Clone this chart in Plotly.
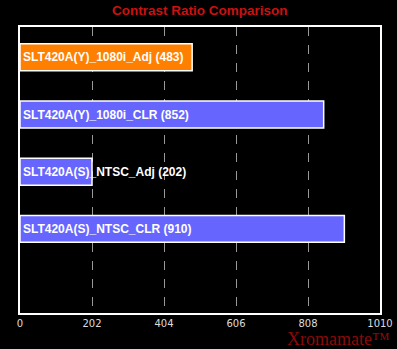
import plotly.graph_objects as go

labels = ["SLT420A(Y)_1080i_Adj", "SLT420A(Y)_1080i_CLR", "SLT420A(S)_NTSC_Adj", "SLT420A(S)_NTSC_CLR"]
values = [483, 852, 202, 910]
colors = ["#FF8000", "#6666FF", "#6666FF", "#6666FF"]
tick_vals = [0, 202, 404, 606, 808, 1010]
positions = list(range(len(labels)))

fig = go.Figure()
fig.add_trace(go.Bar(
    x=values, y=positions, orientation="h",
    marker=dict(color=colors, line=dict(color="white", width=1.5)),
    width=0.47, hoverinfo="skip",
))

for p, lab, v in zip(positions, labels, values):
    fig.add_annotation(x=0, y=p, xref="x", yref="y", text=f"{lab} ({v})",
                       showarrow=False, xanchor="left", xshift=1,
                       font=dict(family="Liberation Sans", size=12, color="white", weight="bold"))

fig.add_annotation(x=0.5, y=1.0, xref="paper", yref="paper", yshift=17, text="Contrast Ratio Comparison",
                   showarrow=False, xanchor="center", yanchor="middle",
                   font=dict(family="Liberation Sans", size=13.5, color="#CC1111", weight="bold"))
fig.add_annotation(x=1.0, y=0, xref="paper", yref="paper", yshift=-38, xshift=12, text="Xromamate™",
                   showarrow=False, xanchor="right", yanchor="bottom",
                   font=dict(family="Liberation Serif", size=18, color="#8B0A0A"))

fig.update_layout(
    width=397, height=349,
    margin=dict(l=20, r=17, t=27, b=36, autoexpand=False),
    paper_bgcolor="black", plot_bgcolor="black",
    showlegend=False,
    xaxis=dict(range=[0, 1010], tickvals=tick_vals, ticktext=[str(t) for t in tick_vals],
               showgrid=True, gridcolor="#999999", griddash="dash", gridwidth=1,
               showline=True, mirror=True, linecolor="white", linewidth=1.5, automargin=False,
               zeroline=False, ticks="", tickfont=dict(family="DejaVu Sans", size=10, color="#DDDDDD")),
    yaxis=dict(range=[4.47, -0.53], showgrid=False, showticklabels=False, zeroline=False, automargin=False,
               showline=True, mirror=True, linecolor="white", linewidth=1.5),
)

fig.write_html("out.html")
